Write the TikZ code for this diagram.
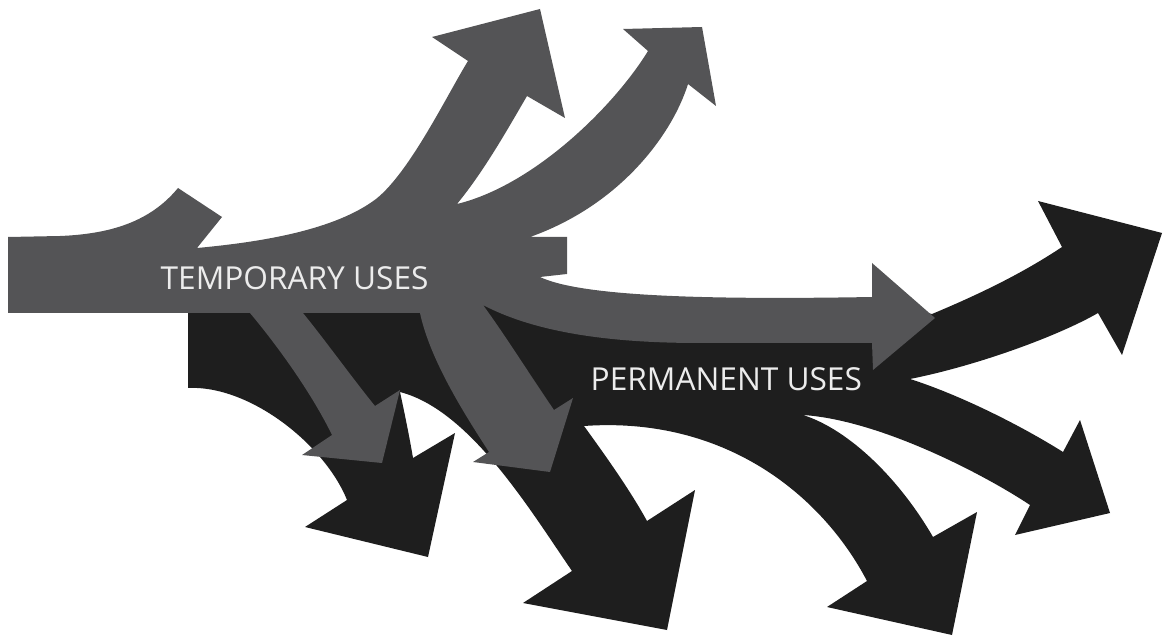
\documentclass[tikz,border=0pt]{standalone}
\usepackage{fontspec}
\setmainfont{Open Sans}
\begin{document}
\begin{tikzpicture}[x=0.01cm,y=-0.01cm,
    permuse/.style={fill={rgb,255:red,30;green,30;blue,30}},
    tempuse/.style={fill={rgb,255:red,84;green,84;blue,86}},
    uselabel/.style={anchor=base west,inner sep=0pt,text={rgb,255:red,236;green,236;blue,236},font=\fontsize{9}{11}\selectfont}]
   \useasboundingbox (0,0) rectangle (1164,637);

   % permanent uses
   \fill[permuse] (188,300) -- (870,300) -- (932,314)
     .. controls (975,296) and (1020,275) .. (1062,247)
     -- (1038,201) -- (1162,233) -- (1122,355) -- (1098,313)
     .. controls (1060,335) and (980,365) .. (910,379)
     .. controls (960,395) and (1020,425) .. (1063,452)
     -- (1080,420) -- (1110,513) -- (1015,535) -- (1030,505)
     .. controls (985,475) and (880,420) .. (803,415)
     .. controls (850,430) and (900,480) .. (933,537)
     -- (977,512) -- (952,635) -- (827,607) -- (867,581)
     .. controls (822,495) and (725,416) .. (584,426)
     .. controls (605,455) and (630,490) .. (647,521)
     -- (695,490) -- (667,630) -- (523,603) -- (572,571)
     .. controls (530,510) and (470,410) .. (400,392)
     .. controls (405,415) and (410,440) .. (413,458)
     -- (455,433) -- (428,557) -- (305,527) -- (347,500)
     .. controls (325,445) and (250,385) .. (188,388)
     -- cycle;

   % temporary uses
   \fill[tempuse] (8,237) -- (60,236)
     .. controls (110,234) and (150,222) .. (178,188)
     -- (222,217) -- (197,248)
     .. controls (262,242) and (335,230) .. (376,199)
     .. controls (410,172) and (447,95) .. (468,61)
     -- (432,37) -- (540,9) -- (565,118) -- (527,96)
     .. controls (510,125) and (485,170) .. (457,204)
     .. controls (535,185) and (615,105) .. (648,51)
     -- (623,29) -- (702,27) -- (716,106) -- (688,84)
     .. controls (672,135) and (620,205) .. (530,237)
     -- (567,237) -- (567,274) -- (540,277)
     .. controls (580,296) and (700,300) .. (872,297)
     -- (872,263) -- (935,318) -- (873,370) -- (872,343) -- (700,343)
     .. controls (620,343) and (540,335) .. (483,305)
     .. controls (505,335) and (530,375) .. (554,410)
     -- (573,398) -- (550,472) -- (473,462) -- (489,452)
     .. controls (465,415) and (430,360) .. (420,313)
     -- (303,313)
     .. controls (325,340) and (350,375) .. (375,406)
     -- (400,390) -- (382,463) -- (302,455) -- (332,435)
     .. controls (315,400) and (285,355) .. (250,313)
     -- (8,313) -- cycle;

   \node[uselabel] (temp) at (160,290) {TEMPORARY USES};
   \node[uselabel] (perm) at (590,390) {PERMANENT USES};
\end{tikzpicture}
\end{document}
